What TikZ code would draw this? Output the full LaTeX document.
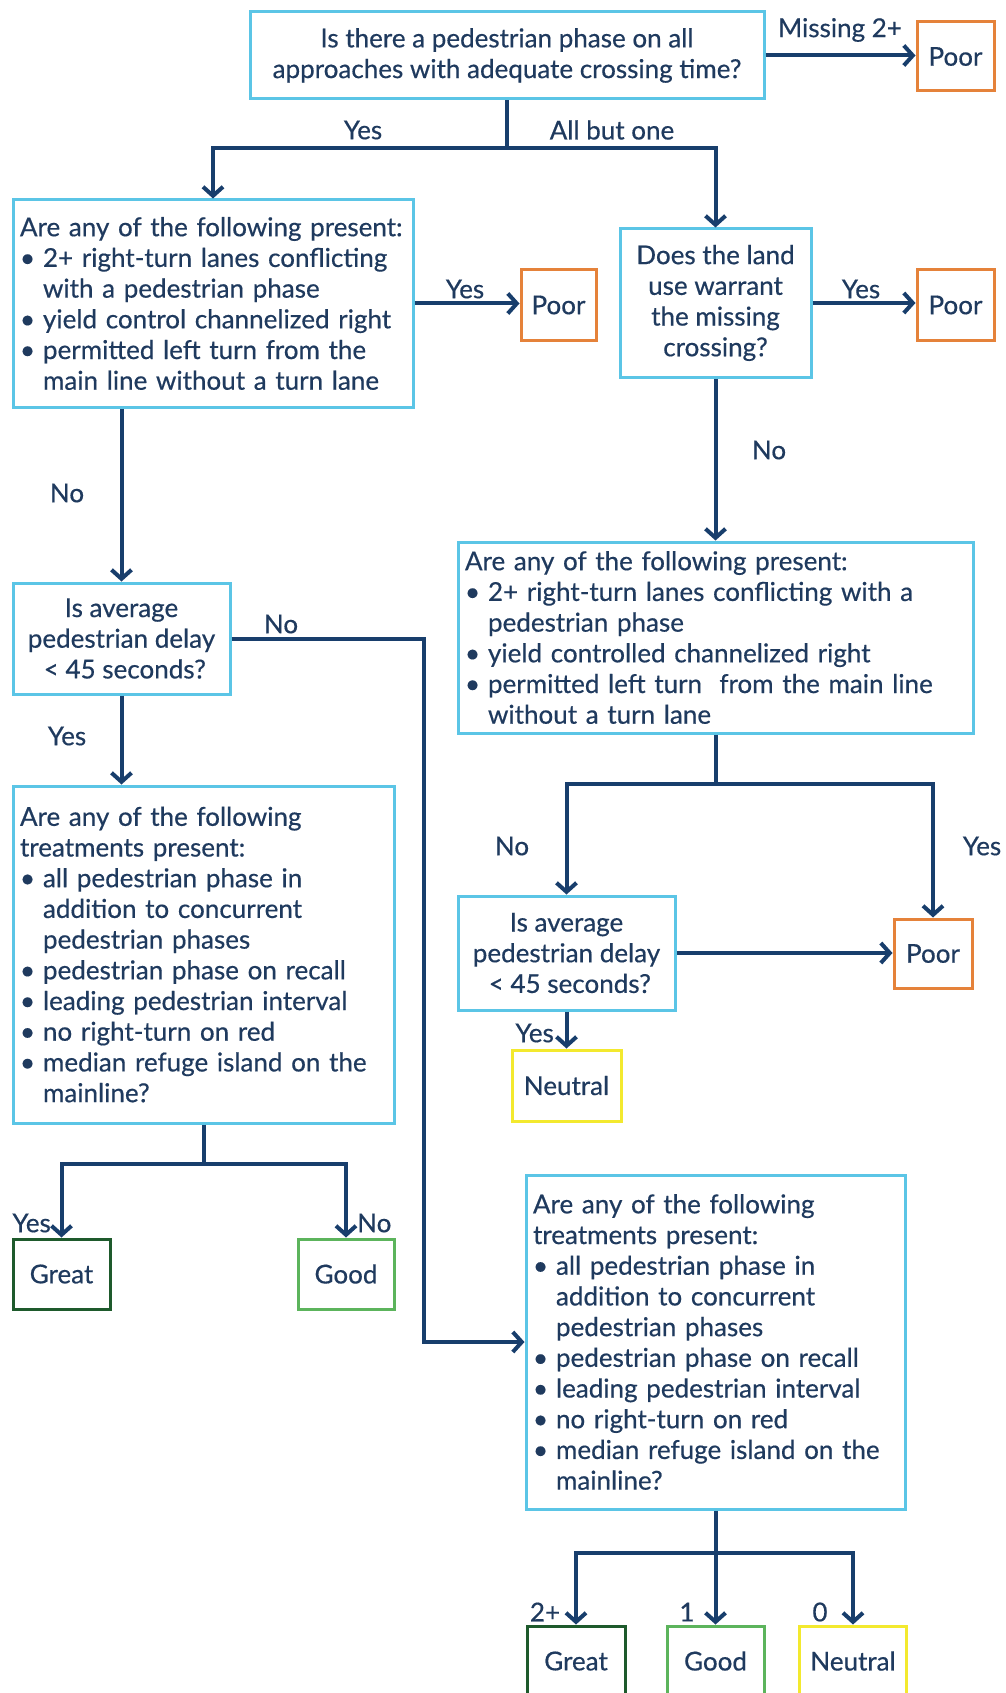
\documentclass[tikz,border=0pt]{standalone}
\usepackage{fontspec}
\setmainfont{Lato}[FakeBold=0.5]
\usetikzlibrary{arrows.meta}
\definecolor{boxblue}{HTML}{5BC5E6}
\definecolor{navy}{HTML}{183E6C}
\definecolor{ink}{HTML}{1F3A5E}
\definecolor{poorc}{HTML}{E5823A}
\definecolor{greatc}{HTML}{1E5A2C}
\definecolor{goodc}{HTML}{5CB45C}
\definecolor{neutc}{HTML}{F3E92E}
\newlength\bulw
\setlength\bulw{23pt}
\newcommand\bul{\makebox[\bulw][l]{•}}
\newcommand\ind{\hspace*{\bulw}}
\begin{document}
\begin{tikzpicture}[x=1pt,y=-1pt,
  font=\fontsize{26}{30.7}\selectfont,
  qbox/.style={draw=boxblue, line width=3pt, text=ink, inner xsep=7pt, inner ysep=0pt, align=center},
  lbox/.style={qbox, align=left},
  rbox/.style={draw=#1, line width=3pt, text=ink, inner sep=0pt, align=center, minimum height=70pt},
  conn/.style={draw=navy, line width=4pt},
  arr/.style={conn, -{Straight Barb[length=9pt,width=20pt]}},
  lbl/.style={text=ink, inner sep=0pt}]
\useasboundingbox (0,0) rectangle (1005,1693);
\clip (0,0) rectangle (1005,1693);

% question boxes
\node[qbox, minimum width=514pt, minimum height=87pt] (T) at (507,55.5)
  {Is there a pedestrian phase on all\\approaches with adequate crossing time?};
\node[lbox, minimum width=400pt, minimum height=207pt, text width=386pt] (B2) at (213,303.5)
  {Are any of the following present:\\
   \bul 2+ right-turn lanes conflicting\\
   \ind with a pedestrian phase\\
   \bul yield control channelized right\\
   \bul permitted left turn from the\\
   \ind main line without a turn lane};
\node[qbox, minimum width=191pt, minimum height=148pt] (B3) at (715.5,303)
  {Does the land\\use warrant\\the missing\\crossing?};
\node[lbox, minimum width=515pt, minimum height=191pt, text width=501pt] (B4) at (715.5,637.5)
  {Are any of the following present:\\
   \bul 2+ right-turn lanes conflicting with a\\
   \ind pedestrian phase\\
   \bul yield controlled channelized right\\
   \bul permitted left turn\ \ from the main line\\
   \ind without a turn lane};
\node[qbox, minimum width=217pt, minimum height=111pt] (B5) at (121.5,638.5)
  {Is average\\pedestrian delay\\\ \textless\ 45 seconds?};
\node[lbox, minimum width=381pt, minimum height=337pt, text width=367pt] (B6) at (203.5,954.5)
  {Are any of the following\\
   treatments present:\\
   \bul all pedestrian phase in\\
   \ind addition to concurrent\\
   \ind pedestrian phases\\
   \bul pedestrian phase on recall\\
   \bul leading pedestrian interval\\
   \bul no right-turn on red\\
   \bul median refuge island on the\\
   \ind mainline?};
\node[qbox, minimum width=217pt, minimum height=114pt] (B7) at (566.5,953)
  {Is average\\pedestrian delay\\\ \textless\ 45 seconds?};
\node[lbox, minimum width=379pt, minimum height=334pt, text width=365pt] (B8) at (715.5,1342)
  {Are any of the following\\
   treatments present:\\
   \bul all pedestrian phase in\\
   \ind addition to concurrent\\
   \ind pedestrian phases\\
   \bul pedestrian phase on recall\\
   \bul leading pedestrian interval\\
   \bul no right-turn on red\\
   \bul median refuge island on the\\
   \ind mainline?};

% rating boxes
\node[rbox=poorc, minimum width=77pt, minimum height=69pt] (P1) at (955.5,56.5) {Poor};
\node[rbox=poorc, minimum width=75pt] (P2) at (558.5,305) {Poor};
\node[rbox=poorc, minimum width=77pt] (P3) at (955.5,305) {Poor};
\node[rbox=poorc, minimum width=78pt, minimum height=69pt] (P4) at (933,953.5) {Poor};
\node[rbox=greatc, minimum width=97pt] (G1) at (61.5,1274) {Great};
\node[rbox=goodc, minimum width=96pt] (Gd1) at (346,1274) {Good};
\node[rbox=neutc, minimum width=109pt, minimum height=71pt] (N1) at (566.5,1085.5) {Neutral};
\node[rbox=greatc, minimum width=98pt] (G2) at (576,1661) {Great};
\node[rbox=goodc, minimum width=97pt] (Gd2) at (715.5,1661) {Good};
\node[rbox=neutc, minimum width=107pt] (N2) at (853,1661) {Neutral};

% connectors
\draw[arr] (T.east) -- (T.east -| P1.west);
\draw[conn] (T.south) -- ++(0,48) coordinate (j1);
\draw[arr] (j1) -| (B2.north);
\draw[arr] (j1) -| (B3.north);
\draw[arr] (B2.east) -- (B2.east -| P2.west);
\draw[arr] (B3.east) -- (B3.east -| P3.west);
\draw[arr] (B3.south) -- (B4.north);
\draw[arr] (B5.north |- B2.south) -- (B5.north);
\draw[arr] (B5.east) -- ++(192,0) |- (B8.west);
\draw[arr] (B5.south) -- (B5.south |- B6.north);
\draw[conn] (B6.south) -- ++(0,39) coordinate (j2);
\draw[arr] (j2) -| (G1.north);
\draw[arr] (j2) -| (Gd1.north);
\draw[conn] (B4.south) -- ++(0,49) coordinate (j3);
\draw[arr] (j3) -| (B7.north);
\draw[arr] (j3) -| (P4.north);
\draw[arr] (B7.east) -- (B7.east -| P4.west);
\draw[arr] (B7.south) -- (N1.north);
\draw[conn] (B8.south) -- ++(0,42) coordinate (j4);
\draw[arr] (j4) -| (G2.north);
\draw[arr] (j4) -- (Gd2.north);
\draw[arr] (j4) -| (N2.north);

% branch labels
\node[lbl] (lm) at (840,30) {Missing 2+};
\node[lbl] (ly1) at (363,130) {Yes};
\node[lbl] (lab) at (612,130) {All but one};
\node[lbl] (ly2) at (465,289) {Yes};
\node[lbl] (ly3) at (861,289) {Yes};
\node[lbl] (ln1) at (769,450) {No};
\node[lbl] (ln2) at (67,493) {No};
\node[lbl] (ln3) at (281,624) {No};
\node[lbl] (ly4) at (67,736) {Yes};
\node[lbl, anchor=east] (ly5) at (51,1223) {Yes};
\node[lbl, anchor=west] (ln4) at (357,1223) {No};
\node[lbl] (ln5) at (512,846) {No};
\node[lbl] (ly6) at (982,846) {Yes};
\node[lbl, anchor=east] (ly7) at (554,1033) {Yes};
\node[lbl] (lc2) at (545,1612) {2+};
\node[lbl] (lc1) at (687,1612) {1};
\node[lbl] (lc0) at (820,1612) {0};
\end{tikzpicture}
\end{document}
